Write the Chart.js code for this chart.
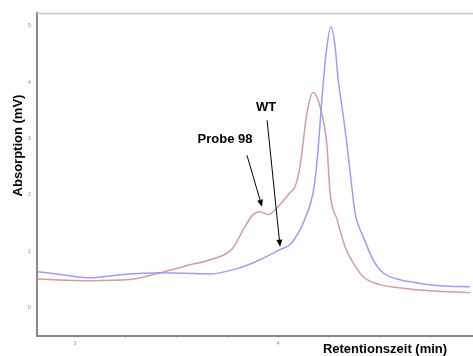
<!DOCTYPE html>
<html>
<head>
<meta charset="utf-8">
<script src="https://cdn.jsdelivr.net/npm/chart.js@4"></script>
<style>
  html, body { margin: 0; padding: 0; background: #fff; }
  #wrap { width: 473px; height: 356px; position: relative; }
</style>
</head>
<body>
<div id="wrap"><canvas id="chart"></canvas></div>
<script>
// retention time (min) / absorption (mV)
const wtTime = [2.813, 2.926, 3.074, 3.236, 3.419, 3.665, 3.813, 3.911, 4.010, 4.059, 4.108, 4.135, 4.160, 4.180, 4.197, 4.217, 4.236, 4.261, 4.281, 4.296, 4.313, 4.330, 4.348, 4.365, 4.379, 4.400, 4.419, 4.468, 4.517, 4.586, 4.685, 4.798, 4.946];
const wtAbs = [0.64, 0.59, 0.53, 0.59, 0.62, 0.60, 0.71, 0.85, 1.03, 1.12, 1.38, 1.60, 1.85, 2.20, 2.80, 3.74, 4.49, 4.98, 4.62, 4.04, 3.60, 3.16, 2.62, 2.09, 1.68, 1.42, 1.26, 0.85, 0.62, 0.51, 0.44, 0.39, 0.37];

const probeTime = [2.813, 3.074, 3.271, 3.419, 3.567, 3.665, 3.778, 3.828, 3.877, 3.911, 3.951, 4.010, 4.059, 4.084, 4.108, 4.143, 4.172, 4.207, 4.241, 4.256, 4.291, 4.330, 4.369, 4.419, 4.502, 4.586, 4.749, 4.946];
const probeAbs = [0.51, 0.48, 0.50, 0.62, 0.76, 0.85, 1.06, 1.38, 1.65, 1.70, 1.65, 1.83, 2.04, 2.15, 2.50, 3.46, 3.81, 3.56, 2.86, 2.04, 1.56, 1.08, 0.80, 0.55, 0.41, 0.36, 0.30, 0.27];

const yTicks = [0, 1, 2, 3, 4, 5];
const xTicks = [3, 3.25, 3.5, 3.75, 4, 4.25, 4.5, 4.75];
const xLabelled = [3, 4];

const xTitle = 'Retentionszeit (min)';
const yTitle = 'Absorption (mV)';

// labels with arrows, in data units
const notes = [
  { text: 'WT', at: [3.941, 3.55], from: [3.946, 3.32], to: [4.010, 1.08] },
  { text: 'Probe 98', at: [3.739, 2.98], from: [3.847, 2.70], to: [3.921, 1.79] }
];

const pts = (xs, ys) => xs.map((x, i) => ({ x: x, y: ys[i] }));

const extras = {
  id: 'extras',
  afterDraw(chart) {
    const ctx = chart.ctx;
    const a = chart.chartArea;
    const sx = chart.scales.x, sy = chart.scales.y;
    ctx.save();
    // top frame line
    ctx.strokeStyle = '#c8c8c8';
    ctx.lineWidth = 1.5;
    ctx.beginPath();
    ctx.moveTo(a.left, a.top + 0.5);
    ctx.lineTo(a.right, a.top + 0.5);
    ctx.stroke();

    // y tick labels (small grey)
    ctx.fillStyle = '#999';
    ctx.font = '6px "Liberation Sans", Arial, sans-serif';
    ctx.textAlign = 'right';
    ctx.textBaseline = 'middle';
    yTicks.forEach(v => ctx.fillText(String(v), a.left - 6, sy.getPixelForValue(v)));

    ctx.fillStyle = '#000';
    ctx.strokeStyle = '#000';
    ctx.font = 'bold 13px "Liberation Sans", Arial, sans-serif';
    ctx.textAlign = 'center';
    notes.forEach(n => {
      ctx.fillText(n.text, sx.getPixelForValue(n.at[0]), sy.getPixelForValue(n.at[1]));
      const x1 = sx.getPixelForValue(n.from[0]), y1 = sy.getPixelForValue(n.from[1]);
      const x2 = sx.getPixelForValue(n.to[0]), y2 = sy.getPixelForValue(n.to[1]);
      const ang = Math.atan2(y2 - y1, x2 - x1);
      ctx.lineWidth = 1;
      ctx.beginPath();
      ctx.moveTo(x1, y1);
      ctx.lineTo(x2 - 5 * Math.cos(ang), y2 - 5 * Math.sin(ang));
      ctx.stroke();
      ctx.beginPath();
      ctx.moveTo(x2, y2);
      ctx.lineTo(x2 - 7 * Math.cos(ang) + 3 * Math.sin(ang), y2 - 7 * Math.sin(ang) - 3 * Math.cos(ang));
      ctx.lineTo(x2 - 7 * Math.cos(ang) - 3 * Math.sin(ang), y2 - 7 * Math.sin(ang) + 3 * Math.cos(ang));
      ctx.closePath();
      ctx.fill();
    });

    // axis titles
    ctx.fillText(xTitle, 385, 349);
    ctx.translate(18, (a.top + a.bottom) / 2 - 29);
    ctx.rotate(-Math.PI / 2);
    ctx.fillText(yTitle, 0, 0);
    ctx.restore();
  }
};

new Chart(document.getElementById('chart'), {
  type: 'line',
  data: {
    datasets: [
      {
        label: 'WT',
        data: pts(wtTime, wtAbs),
        borderColor: 'rgba(145, 145, 255, 0.9)',
        borderWidth: 1.5,
        pointRadius: 0,
        cubicInterpolationMode: 'monotone'
      },
      {
        label: 'Probe 98',
        data: pts(probeTime, probeAbs),
        borderColor: 'rgba(208, 145, 145, 0.9)',
        borderWidth: 1.5,
        pointRadius: 0,
        cubicInterpolationMode: 'monotone'
      }
    ]
  },
  options: {
    responsive: true,
    maintainAspectRatio: false,
    animation: false,
    layout: { padding: { top: 13, right: 0, left: 0, bottom: 0 } },
    plugins: { legend: { display: false }, tooltip: { enabled: false } },
    scales: {
      x: {
        type: 'linear',
        min: 2.813,
        max: 4.96,
        afterFit: s => { s.height = 20; },
        afterBuildTicks: s => { s.ticks = xTicks.map(v => ({ value: v })); },
        grid: { drawOnChartArea: false, tickLength: 2, color: '#bbb' },
        border: { color: '#888', width: 2 },
        ticks: {
          color: '#999',
          font: { size: 6 },
          padding: 2,
          maxRotation: 0,
          autoSkip: false,
          callback: v => xLabelled.includes(v) ? String(v) : ''
        }
      },
      y: {
        min: -0.5,
        max: 5.22,
        afterFit: s => { s.width = 37; },
        grid: { display: false },
        border: { color: '#888', width: 2 },
        ticks: { display: false }
      }
    }
  },
  plugins: [extras]
});
</script>
</body>
</html>
